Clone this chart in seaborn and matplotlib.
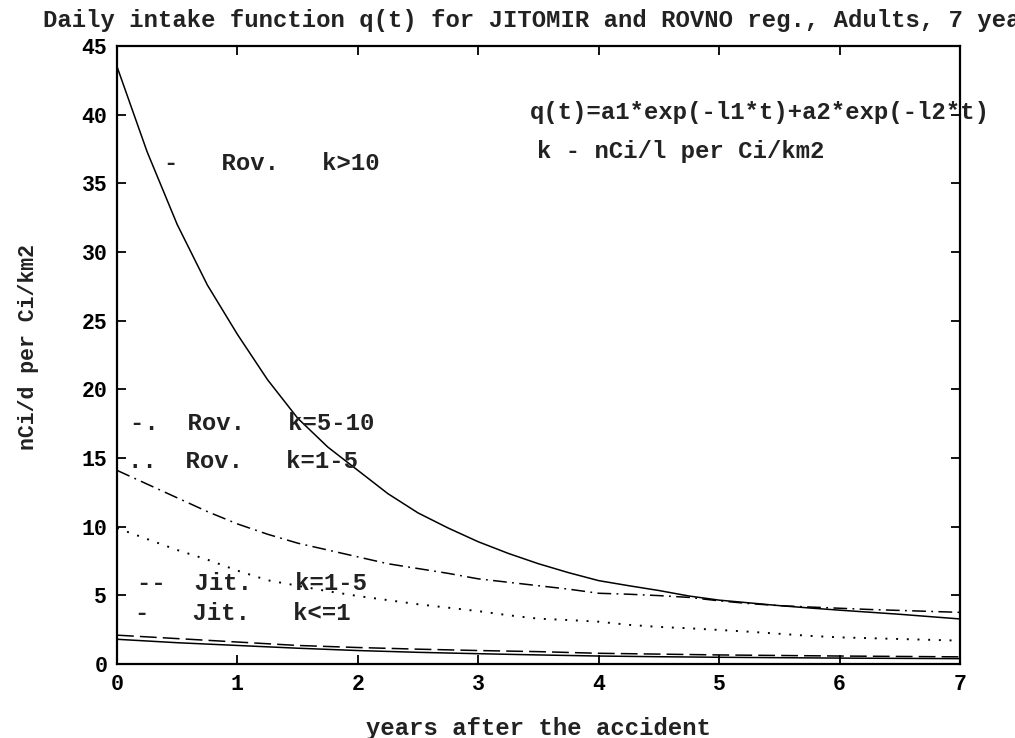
import matplotlib
matplotlib.use("Agg")
import matplotlib.pyplot as plt
import numpy as np
import pandas as pd
import seaborn as sns

# Time grids (years after the accident)
t_fine = [0.0, 0.25, 0.5, 0.75, 1.0, 1.25, 1.5, 1.75, 2.0, 2.25, 2.5, 2.75, 3.0,
          3.25, 3.5, 3.75, 4.0, 4.25, 4.5, 4.75, 5.0, 5.25, 5.5, 5.75, 6.0,
          6.25, 6.5, 6.75, 7.0]
t_coarse = [0.0, 0.5, 1.0, 1.5, 2.0, 2.5, 3.0, 3.5, 4.0, 4.5, 5.0, 5.5, 6.0, 6.5, 7.0]

# Daily intake q(t), nCi/d per Ci/km2
rov_k_gt10 = [43.5, 37.3, 32.0, 27.6, 24.0, 20.7, 17.9, 15.8, 14.1, 12.4, 11.0, 9.9, 8.9,
              8.05, 7.3, 6.65, 6.07, 5.7, 5.35, 4.95, 4.65, 4.45, 4.25, 4.08, 3.92,
              3.77, 3.62, 3.45, 3.28]
rov_k_5_10 = [14.1, 13.1, 12.1, 11.1, 10.2, 9.45, 8.8, 8.3, 7.8, 7.3, 6.95, 6.6, 6.2,
              5.95, 5.7, 5.45, 5.15, 5.08, 4.98, 4.85, 4.6, 4.4, 4.25, 4.15, 4.06,
              3.97, 3.9, 3.83, 3.76]
rov_k_1_5 = [9.9, 9.1, 8.3, 7.6, 6.8, 6.1, 5.7, 5.3, 4.95, 4.65, 4.35, 4.1, 3.85,
             3.55, 3.3, 3.2, 3.08, 2.85, 2.7, 2.6, 2.48, 2.35, 2.2, 2.05, 1.94,
             1.88, 1.82, 1.76, 1.70]
jit_k_1_5 = [2.1, 1.85, 1.6, 1.35, 1.2, 1.08, 0.98, 0.9, 0.78, 0.72, 0.66, 0.62, 0.58, 0.55, 0.52]
jit_k_le1 = [1.8, 1.55, 1.35, 1.15, 0.98, 0.85, 0.75, 0.66, 0.58, 0.53, 0.49, 0.46, 0.43, 0.41, 0.39]

# Legend rows written in the plot as text
legend_rows = ["-   Rov.   k>10",
               "-.  Rov.   k=5-10",
               "..  Rov.   k=1-5",
               "--  Jit.   k=1-5",
               "-   Jit.   k<=1"]
x_ticks = [0, 1, 2, 3, 4, 5, 6, 7]
y_ticks = [0, 5, 10, 15, 20, 25, 30, 35, 40, 45]

sns.set_style("ticks")
MONO = ["Liberation Mono", "DejaVu Sans Mono"]
plt.rcParams["font.family"] = MONO
plt.rcParams["font.weight"] = "bold"

W, H = 1015, 738
fig = plt.figure(figsize=(W / 100, H / 100), dpi=100)
L, R, T, B = 117, 960, 46, 664
ax = fig.add_axes([L / W, 1 - B / H, (R - L) / W, (B - T) / H])

def frame(t, q):
    return pd.DataFrame({"t": t, "q": q})

lw = 1.1
sns.lineplot(data=frame(t_fine, rov_k_gt10), x="t", y="q", ax=ax, color="black",
             lw=lw, linestyle="-")
sns.lineplot(data=frame(t_fine, rov_k_5_10), x="t", y="q", ax=ax, color="black",
             lw=lw, linestyle=(0, (9, 3.5, 1.2, 3.5)))
sns.lineplot(data=frame(t_fine, rov_k_1_5), x="t", y="q", ax=ax, color="black",
             lw=1.4, linestyle=(0, (1, 4.5)))
sns.lineplot(data=frame(t_coarse, jit_k_1_5), x="t", y="q", ax=ax, color="black",
             lw=lw, linestyle=(0, (11, 4)))
sns.lineplot(data=frame(t_coarse, jit_k_le1), x="t", y="q", ax=ax, color="black",
             lw=lw, linestyle="-")

ax.set_xlim(0, 7)
ax.set_ylim(0, 45)
ax.set_xticks(x_ticks)
ax.set_yticks(y_ticks)
ax.set_xticklabels([str(v) for v in x_ticks])
ax.set_yticklabels([str(v) for v in y_ticks])
ax.tick_params(axis="both", which="both", direction="in", length=6.5, width=1.3,
               top=True, right=True, labelsize=15.5, colors="black")
ax.tick_params(axis="x", pad=7)
ax.tick_params(axis="y", pad=7)
for s in ax.spines.values():
    s.set_linewidth(1.6)
    s.set_color("black")
    s.set_visible(True)

txt = dict(fontsize=17.2, fontweight="bold", color="#222222", family=MONO)

ax.set_xlabel("years after the accident", **txt)
ax.xaxis.set_label_coords(0.5, -(728 - B) / (B - T))
ax.xaxis.label.set_va("center")
ax.set_ylabel("nCi/d per Ci/km2", fontsize=15.5, fontweight="bold",
              color="#222222", family=MONO)
ax.yaxis.set_label_coords((29 - L) / (R - L), (B - 347) / (B - T))
ax.yaxis.label.set_va("center")

# The heading runs past the right edge of the figure
fig.text(43 / W, 1 - 20 / H, "Daily intake function q(t) for JITOMIR and ROVNO reg., Adults, 7 years",
         ha="left", va="center", **txt)

def px_to_data(px, py):
    return (px - L) / (R - L) * 7, (B - py) / (B - T) * 45

row_pos = [(164, 164), (130, 423), (128, 461), (137, 583), (135, 613)]
for label, (px, py) in zip(legend_rows, row_pos):
    x, y = px_to_data(px, py)
    ax.text(x, y, label, ha="left", va="center", clip_on=False, **txt)

x, y = px_to_data(530, 113)
ax.text(x, y, "q(t)=a1*exp(-l1*t)+a2*exp(-l2*t)", ha="left", va="center",
        clip_on=False, **txt)
x, y = px_to_data(537, 152)
ax.text(x, y, "k - nCi/l per Ci/km2", ha="left", va="center", clip_on=False, **txt)

fig.savefig("out.png", dpi=100)
